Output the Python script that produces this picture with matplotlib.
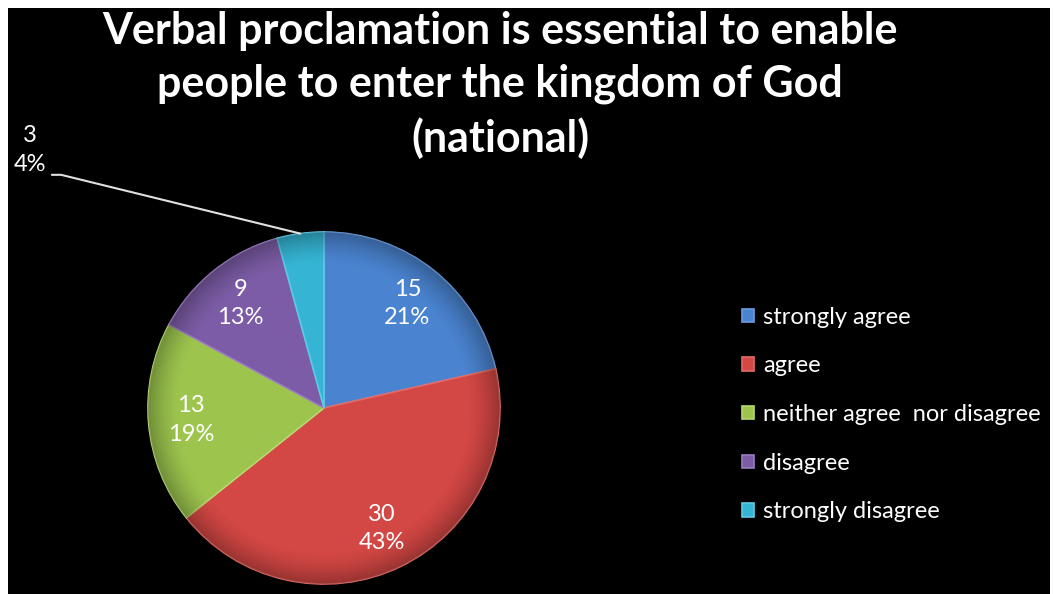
import numpy as np
import matplotlib.pyplot as plt
from matplotlib.patches import Rectangle, Circle

# Survey responses
categories = ['strongly agree', 'agree', 'neither agree  nor disagree', 'disagree', 'strongly disagree']
counts = [15, 30, 13, 9, 3]
colors = ['#4a83cf', '#d34744', '#9dc54e', '#7c5ca6', '#35b4d3']
edges = ['#6a9ee0', '#e56a66', '#b5d86e', '#9a7cc0', '#5ccbe6']
title = 'Verbal proclamation is essential to enable\npeople to enter the kingdom of God\n(national)'

W, H = 1053, 594
fig = plt.figure(figsize=(W / 100, H / 100), dpi=100, facecolor='white')

# black panel with a thin white margin at top/left/right
fig.patches.append(Rectangle((8 / W, 0), (1050 - 8) / W, (H - 8) / H,
                             transform=fig.transFigure, facecolor='black',
                             edgecolor='none', zorder=-10))

fig.text(500 / W, 1 - 152 / H, title, ha='center', va='baseline', color='white',
         fontsize=31, fontweight='bold', family='Lato', linespacing=1.39,
         multialignment='center')

ax = fig.add_axes([148 / W, 1 - 584 / H, 352 / W, 352 / H])
ax.set_facecolor('none')
ax.set_zorder(2)

total = sum(counts)
labels = [f'{c}\n{round(c / total * 100)}%' for c in counts]

wedges, texts = ax.pie(counts, colors=colors, startangle=90, counterclock=False,
                       radius=1, labels=labels, labeldistance=0.76,
                       wedgeprops=dict(linewidth=1.2),
                       textprops=dict(color='white', fontsize=17, family='Lato',
                                      linespacing=1.45, ha='center', va='center',
                                      zorder=5))
for w, e in zip(wedges, edges):
    w.set_edgecolor(e)

# soft darkening toward the rim for a slightly rounded look
g = np.linspace(-1, 1, 400)
xx, yy = np.meshgrid(g, g)
rr = np.sqrt(xx ** 2 + yy ** 2)
shade = np.zeros((400, 400, 4))
shade[..., 3] = 0.28 * np.clip((rr - 0.82) / 0.18, 0, 1) ** 1.5
rim = ax.imshow(shade, extent=(-1, 1, -1, 1), origin='lower', zorder=3)
rim.set_clip_path(Circle((0, 0), 1, transform=ax.transData))

# the smallest slice gets its label outside with a leader line
small = wedges[-1]
mid = np.deg2rad((small.theta1 + small.theta2) / 2)
texts[-1].set_visible(False)
ax.annotate(labels[-1], xy=(np.cos(mid), np.sin(mid)), xycoords='data',
            xytext=(30 / W, 1 - 150 / H), textcoords='figure fraction',
            ha='center', va='center', color='white', fontsize=17, family='Lato',
            linespacing=1.45, annotation_clip=False,
            arrowprops=dict(arrowstyle='-', color='#e0e0e0', lw=1.5,
                            shrinkA=2, shrinkB=0,
                            connectionstyle='angle,angleA=0,angleB=-13.8,rad=0',
                            relpos=(1.0, 0.0)))
ax.set_xlim(-1, 1)
ax.set_ylim(-1, 1)
ax.set_aspect('equal')

leg = fig.legend(wedges, categories, loc='upper left',
                 bbox_to_anchor=(730 / W, 1 - 295 / H), frameon=False,
                 labelcolor='white', prop=dict(family='Lato', size=17),
                 handlelength=0.5, handleheight=0.5, handletextpad=0.4,
                 labelspacing=1.17, borderpad=0)

fig.savefig('out.png', dpi=100, facecolor='white')
